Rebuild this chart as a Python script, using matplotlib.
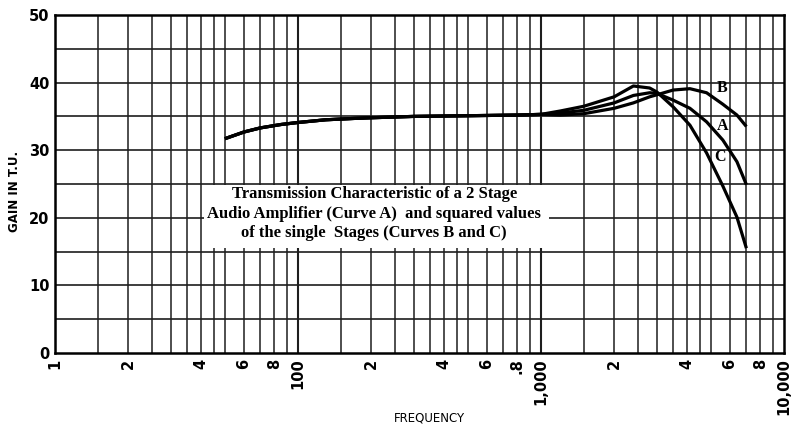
import numpy as np
import matplotlib
matplotlib.use("Agg")
import matplotlib.pyplot as plt
from matplotlib.patches import Rectangle

# frequencies (Hz)
freq = [50, 60, 70, 85, 100, 130, 170, 200, 300, 500, 800, 1000,
        1200, 1500, 2000, 2400, 2800, 3000, 3500, 4100, 4800, 5600, 6400, 7000]

# gain in T.U. below ~1 kHz all three curves coincide
low = [31.7, 32.7, 33.3, 33.8, 34.1, 34.5, 34.7, 34.8, 35.0, 35.1, 35.2, 35.3]
curveA = low + [35.5, 35.9, 37.0, 38.1, 38.5, 38.4, 37.4, 36.2, 34.2, 31.5, 28.3, 24.9]
curveB = low + [35.2, 35.4, 36.2, 37.0, 37.9, 38.2, 38.9, 39.1, 38.5, 36.8, 35.2, 33.5]
curveC = low + [35.8, 36.5, 37.9, 39.5, 39.2, 38.6, 36.4, 33.7, 29.6, 24.7, 20.1, 15.5]

xticks = [10, 20, 40, 60, 80, 100, 200, 400, 600, 800, 1000, 2000, 4000, 6000, 8000, 10000]
xlabels = ['1', '2', '4', '6', '8', '100', '2', '4', '6', '.8', '1,000', '2', '4', '6', '8', '10,000']
yticks = [0, 10, 20, 30, 40, 50]

# minor grid positions inside a decade
minor = [1.5, 2, 2.5, 3, 3.5, 4, 4.5, 5, 6, 7, 8, 9]

fig = plt.figure(figsize=(7.95, 4.25), dpi=100)
ax = fig.add_axes([0.0692, 0.1694, 0.9170, 0.7953])

ax.set_xscale('log')
ax.set_xlim(10, 10000)
ax.set_ylim(0, 50)

gc = '#1e1e1e'
for dec in [10, 100, 1000]:
    ax.axvline(dec, color=gc, lw=1.5, zorder=0.5)
    for m in minor:
        ax.axvline(dec * m, color=gc, lw=1.1, zorder=0.5)
for yv in range(5, 50, 5):
    ax.axhline(yv, color=gc, lw=1.2, zorder=0.5)

# white patch behind the caption
ax.add_patch(Rectangle((41, 15.6), 1080 - 41, 24.9 - 15.6, facecolor='white',
                       edgecolor='none', zorder=1))

for g in [curveA, curveB, curveC]:
    ax.plot(freq, g, color='black', lw=2.3, zorder=3, solid_capstyle='butt')

serif = ['Liberation Serif', 'DejaVu Serif']
ax.text(206, 20.6, "Transmission Characteristic of a 2 Stage\n"
        "Audio Amplifier (Curve A)  and squared values\n"
        "of the single  Stages (Curves B and C)",
        ha='center', va='center', multialignment='center', family=serif,
        fontweight='bold', fontsize=12, linespacing=1.3, zorder=4)

ax.text(5540, 39.2, 'B', family=serif, fontweight='bold', fontsize=11.5, ha='center', va='center', zorder=4)
ax.text(5600, 33.6, 'A', family=serif, fontweight='bold', fontsize=11.5, ha='center', va='center', zorder=4)
ax.text(5450, 29.0, 'C', family=serif, fontweight='bold', fontsize=11.5, ha='center', va='center', zorder=4)

ax.set_xticks(xticks)
ax.set_xticklabels(xlabels, rotation=90, fontsize=10.5, fontweight='bold')
ax.xaxis.set_minor_locator(matplotlib.ticker.NullLocator())
ax.set_yticks(yticks)
ax.set_yticklabels([str(v) for v in yticks], fontsize=10.5, fontweight='bold')
ax.tick_params(length=0, pad=4)

for s in ax.spines.values():
    s.set_linewidth(1.8)
    s.set_color('black')

fig.text(0.018, 0.55, 'GAIN IN T.U.', rotation=90, ha='center', va='center',
         fontsize=8.5, fontweight='bold')
fig.text(0.54, 0.002, 'FREQUENCY', ha='center', va='bottom', fontsize=8.5)

fig.savefig('out.png', dpi=100)
